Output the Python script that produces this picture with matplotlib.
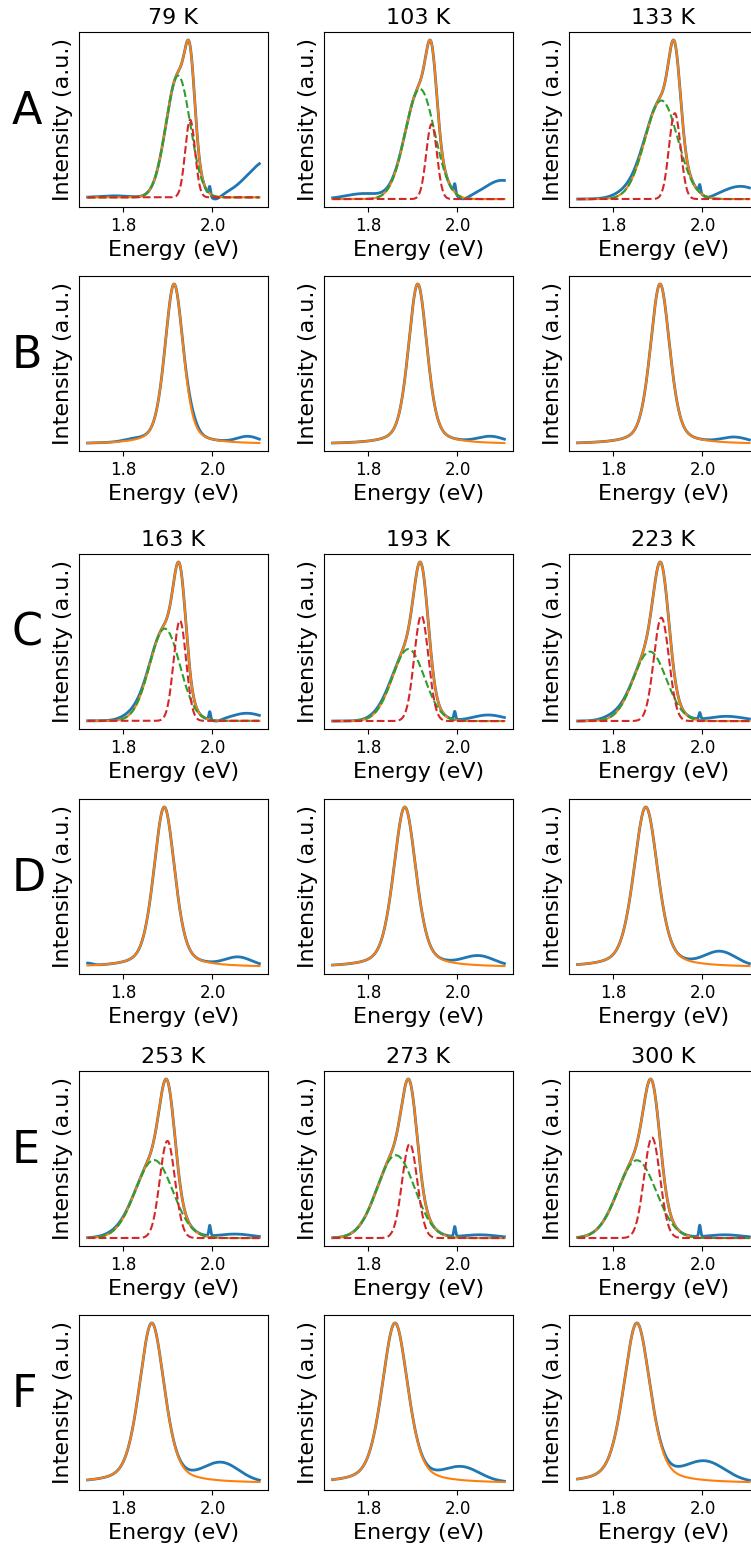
import numpy as np
import matplotlib
matplotlib.use('Agg')
from matplotlib import pyplot as plt

# Temperatures (column titles for rows A, C, E)
temps = ['79 K', '103 K', '133 K', '163 K', '193 K', '223 K', '253 K', '273 K', '300 K']
row_letters = ['A', 'B', 'C', 'D', 'E', 'F']

# Two-Gaussian fits (rows A, C, E), one entry per temperature
green_center = [1.923, 1.916, 1.908, 1.893, 1.890, 1.882, 1.869, 1.862, 1.853]
green_sigma = [0.027, 0.033, 0.037, 0.034, 0.036, 0.037, 0.042, 0.042, 0.043]
green_amp = [0.80, 0.705, 0.62, 0.57, 0.45, 0.44, 0.49, 0.51, 0.48]
red_center = [1.950, 1.942, 1.938, 1.927, 1.919, 1.908, 1.899, 1.893, 1.887]
red_sigma = [0.011, 0.012, 0.013, 0.014, 0.016, 0.017, 0.017, 0.017, 0.018]
red_amp = [0.51, 0.48, 0.54, 0.62, 0.66, 0.655, 0.61, 0.58, 0.62]

# Single-peak (pseudo-Voigt) fits (rows B, D, F)
peak_center = [1.914, 1.911, 1.905, 1.892, 1.882, 1.873, 1.864, 1.860, 1.853]
peak_fwhm = [0.049, 0.050, 0.052, 0.056, 0.060, 0.064, 0.067, 0.069, 0.071]
peak_eta = [0.4, 0.4, 0.4, 0.4, 0.4, 0.4, 0.4, 0.4, 0.4]

# Features of the measured spectra not covered by the fit: (center, width, amplitude)
extra_two = [
    [(2.13, 0.05, 0.25), (2.005, 0.012, -0.03), (1.994, 0.002, 0.06), (1.78, 0.03, 0.01)],
    [(2.10, 0.04, 0.12), (2.01, 0.012, -0.02), (1.994, 0.002, 0.06), (1.79, 0.04, 0.035)],
    [(2.085, 0.04, 0.08), (2.01, 0.012, -0.015), (1.994, 0.002, 0.05), (1.83, 0.03, 0.03)],
    [(2.077, 0.035, 0.047), (2.01, 0.01, -0.01), (1.994, 0.002, 0.05), (1.82, 0.025, 0.025)],
    [(2.069, 0.035, 0.038), (1.994, 0.002, 0.05), (1.83, 0.025, 0.015)],
    [(2.054, 0.04, 0.03), (1.994, 0.002, 0.04), (1.80, 0.025, 0.02)],
    [(2.05, 0.04, 0.025), (1.994, 0.002, 0.065), (1.78, 0.03, 0.01)],
    [(2.05, 0.04, 0.02), (1.994, 0.002, 0.06)],
    [(2.05, 0.04, 0.02), (1.994, 0.002, 0.07)],
]
extra_one = [
    [(2.08, 0.025, 0.04), (1.955, 0.012, 0.03), (1.82, 0.02, 0.01)],
    [(2.075, 0.03, 0.04)],
    [(2.073, 0.03, 0.035)],
    [(2.058, 0.03, 0.053), (1.72, 0.01, 0.015)],
    [(2.048, 0.035, 0.06)],
    [(2.04, 0.035, 0.086)],
    [(2.02, 0.04, 0.114)],
    [(2.01, 0.04, 0.085)],
    [(2.006, 0.045, 0.12)],
]

energy = np.linspace(1.7201, 2.1053, 800)


def gauss(x, c, s, a):
    return a * np.exp(-(x - c) ** 2 / (2 * s ** 2))


def pvoigt(x, c, fwhm, eta):
    hw = fwhm / 2
    u = (x - c) / hw
    return eta / (1 + u ** 2) + (1 - eta) * np.exp(-np.log(2) * u ** 2)


def extras(x, feats):
    out = np.zeros_like(x)
    for c, s, a in feats:
        out += gauss(x, c, s, a)
    return out


fig = plt.figure(figsize=(7.51, 15.49), dpi=100)

W, H = 751, 1549
col_left = [79, 324, 569]
row_top = [32, 276, 554, 799, 1071, 1315]
ax_w, ax_h = 189, 175

for r in range(6):
    for c in range(3):
        i = (r // 2) * 3 + c
        ax = fig.add_axes([col_left[c] / W, 1 - (row_top[r] + ax_h) / H, ax_w / W, ax_h / H])

        if r % 2 == 0:
            g = gauss(energy, green_center[i], green_sigma[i], green_amp[i])
            rd = gauss(energy, red_center[i], red_sigma[i], red_amp[i])
            fit = g + rd
            data = fit + extras(energy, extra_two[i])
            ax.plot(energy, data, color='C0', lw=2)
            ax.plot(energy, fit, color='C1', lw=1.5)
            ax.plot(energy, g, color='C2', ls='--', lw=1.5)
            ax.plot(energy, rd, color='C3', ls='--', lw=1.5)
            ax.set_title(temps[i], fontsize=16)
        else:
            fit = pvoigt(energy, peak_center[i], peak_fwhm[i], peak_eta[i])
            data = fit + extras(energy, extra_one[i])
            ax.plot(energy, data, color='C0', lw=2)
            ax.plot(energy, fit, color='C1', lw=1.5)

        ax.set_yticks([])
        ax.set_xticks([1.8, 2.0])
        ax.set_xticklabels(['1.8', '2.0'])
        ax.tick_params(axis='x', labelsize=12)
        ax.set_xlabel('Energy (eV)', fontsize=16)
        ax.set_ylabel('Intensity (a.u.)', fontsize=16)

    center = row_top[r] + ax_h / 2 + 4.5
    fig.text(12 / W, 1 - center / H, row_letters[r], fontsize=32, va='baseline', ha='left')

fig.savefig('out.png', dpi=100)
